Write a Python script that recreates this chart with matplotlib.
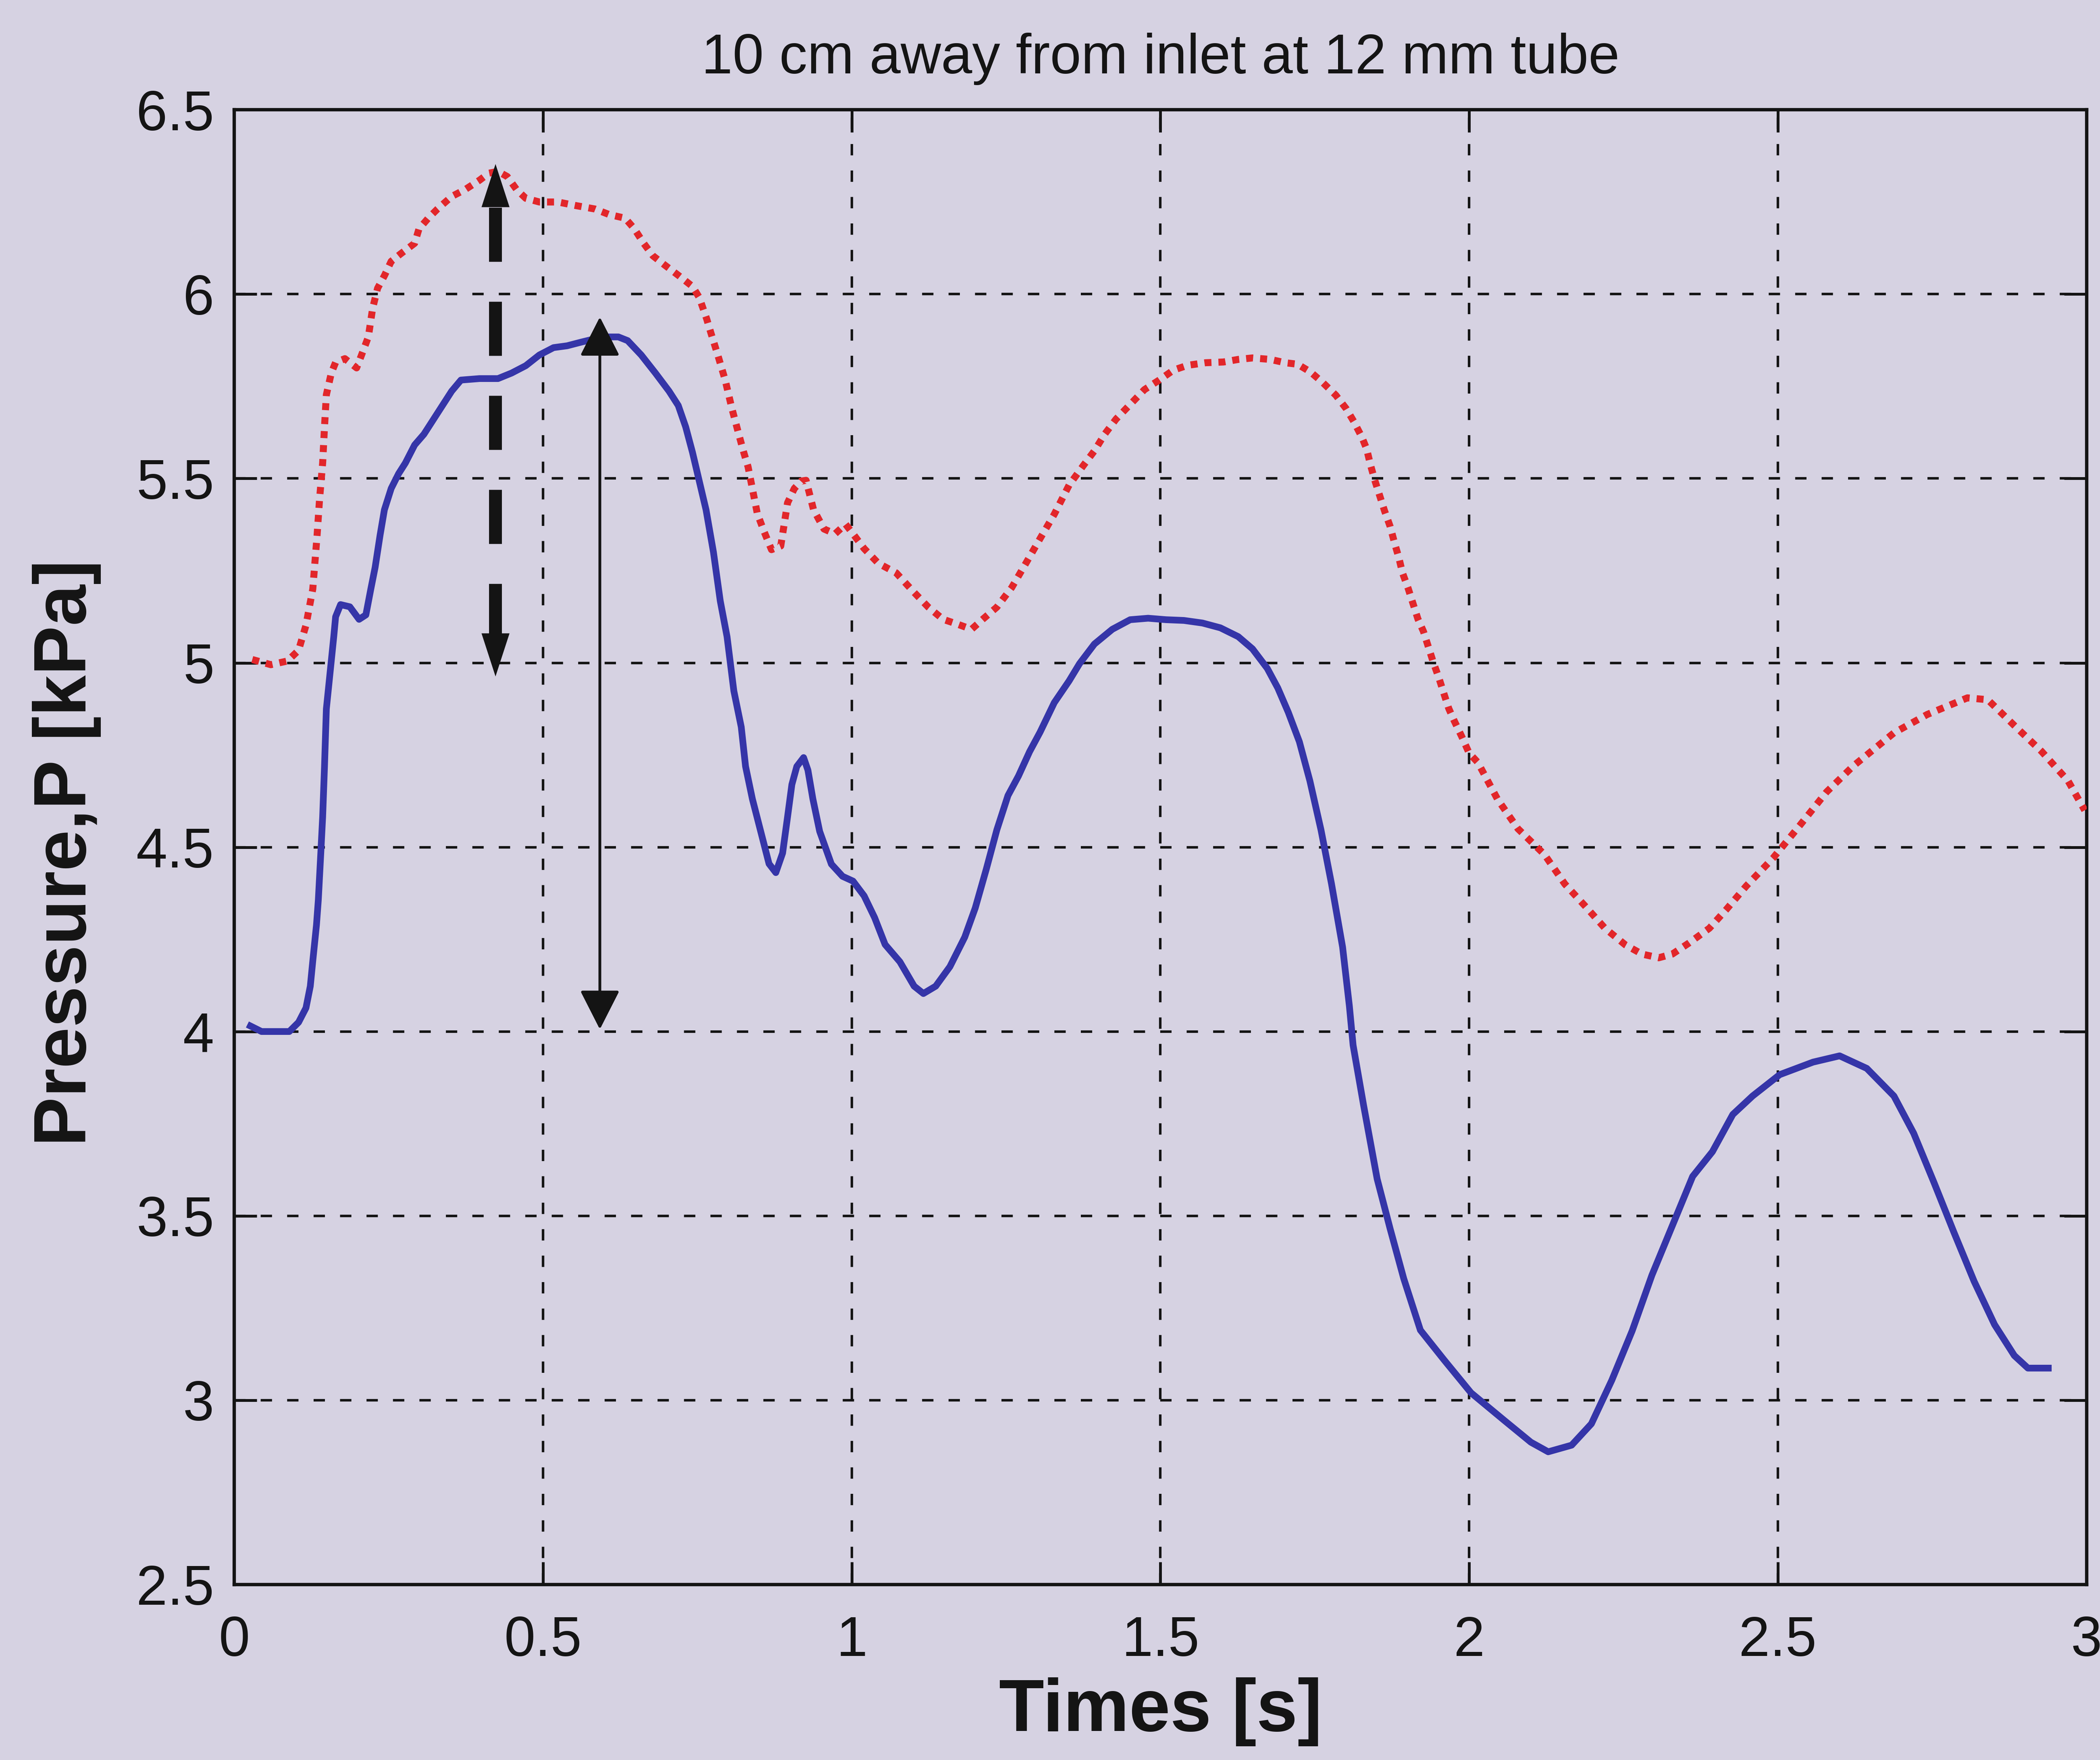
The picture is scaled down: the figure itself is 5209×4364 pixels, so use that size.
import matplotlib.pyplot as plt

# blue solid curve: time [s] and pressure [kPa]
blue_t = [0.026, 0.044, 0.089, 0.104, 0.116, 0.123, 0.127, 0.133, 0.136, 0.140,
          0.143, 0.146, 0.149, 0.155, 0.161, 0.164, 0.172, 0.187, 0.202, 0.213,
          0.221, 0.228, 0.236, 0.243, 0.254, 0.266, 0.277, 0.292, 0.307, 0.322,
          0.337, 0.352, 0.367, 0.397, 0.427, 0.449, 0.472, 0.494, 0.517, 0.539,
          0.562, 0.584, 0.607, 0.622, 0.637, 0.659, 0.682, 0.704, 0.719, 0.731,
          0.742, 0.753, 0.764, 0.776, 0.787, 0.798, 0.809, 0.821, 0.828, 0.839,
          0.854, 0.866, 0.877, 0.888, 0.896, 0.903, 0.911, 0.922, 0.929, 0.937,
          0.948, 0.967, 0.985, 1.002, 1.020, 1.037, 1.054, 1.078, 1.101, 1.116,
          1.136, 1.159, 1.183, 1.200, 1.218, 1.235, 1.253, 1.270, 1.288, 1.305,
          1.328, 1.352, 1.369, 1.393, 1.422, 1.451, 1.480, 1.509, 1.538, 1.568,
          1.597, 1.626, 1.649, 1.673, 1.690, 1.707, 1.725, 1.742, 1.760, 1.777,
          1.795, 1.806, 1.812, 1.829, 1.851, 1.872, 1.894, 1.921, 1.959, 2.003,
          2.057, 2.100, 2.128, 2.166, 2.198, 2.231, 2.264, 2.296, 2.329, 2.362,
          2.394, 2.427, 2.459, 2.503, 2.557, 2.600, 2.644, 2.688, 2.720, 2.753,
          2.785, 2.818, 2.851, 2.883, 2.905, 2.938]
blue_p = [4.015, 4.000, 4.000, 4.025, 4.064, 4.123, 4.191, 4.289, 4.357, 4.484,
          4.582, 4.719, 4.875, 4.973, 5.071, 5.125, 5.158, 5.152, 5.118, 5.130,
          5.200, 5.259, 5.346, 5.415, 5.473, 5.513, 5.542, 5.591, 5.620, 5.659,
          5.698, 5.737, 5.767, 5.771, 5.771, 5.786, 5.806, 5.835, 5.855, 5.860,
          5.870, 5.879, 5.884, 5.884, 5.874, 5.835, 5.786, 5.737, 5.698, 5.640,
          5.571, 5.493, 5.415, 5.300, 5.168, 5.071, 4.924, 4.826, 4.719, 4.631,
          4.533, 4.455, 4.431, 4.484, 4.582, 4.670, 4.719, 4.743, 4.709, 4.631,
          4.543, 4.454, 4.421, 4.408, 4.368, 4.309, 4.236, 4.189, 4.123, 4.103,
          4.123, 4.176, 4.256, 4.335, 4.441, 4.547, 4.640, 4.693, 4.759, 4.812,
          4.892, 4.951, 4.998, 5.051, 5.091, 5.117, 5.121, 5.117, 5.115, 5.108,
          5.095, 5.071, 5.038, 4.985, 4.932, 4.866, 4.786, 4.680, 4.547, 4.401,
          4.229, 4.069, 3.963, 3.800, 3.600, 3.465, 3.330, 3.190, 3.110, 3.020,
          2.945, 2.886, 2.860, 2.878, 2.936, 3.054, 3.188, 3.339, 3.473, 3.607,
          3.674, 3.775, 3.825, 3.883, 3.917, 3.934, 3.900, 3.825, 3.724, 3.590,
          3.456, 3.322, 3.205, 3.121, 3.087, 3.087]

# red dotted curve
red_t = [0.029, 0.059, 0.086, 0.104, 0.116, 0.127, 0.134, 0.138, 0.143, 0.146,
         0.149, 0.157, 0.164, 0.179, 0.198, 0.206, 0.217, 0.224, 0.232, 0.243,
         0.254, 0.269, 0.292, 0.299, 0.314, 0.329, 0.352, 0.374, 0.397, 0.412,
         0.427, 0.442, 0.457, 0.472, 0.494, 0.524, 0.554, 0.584, 0.607, 0.633,
         0.648, 0.663, 0.678, 0.697, 0.720, 0.742, 0.753, 0.765, 0.772, 0.783,
         0.795, 0.806, 0.817, 0.825, 0.832, 0.840, 0.847, 0.858, 0.870, 0.885,
         0.896, 0.907, 0.918, 0.926, 0.938, 0.955, 0.973, 0.990, 1.002, 1.020,
         1.043, 1.072, 1.101, 1.124, 1.148, 1.171, 1.194, 1.212, 1.235, 1.259,
         1.282, 1.305, 1.328, 1.352, 1.375, 1.393, 1.410, 1.428, 1.451, 1.474,
         1.498, 1.521, 1.544, 1.573, 1.602, 1.626, 1.649, 1.678, 1.702, 1.722,
         1.743, 1.763, 1.784, 1.801, 1.813, 1.826, 1.834, 1.840, 1.847, 1.855,
         1.863, 1.872, 1.880, 1.886, 1.892, 1.901, 1.909, 1.917, 1.926, 1.934,
         1.942, 1.951, 1.959, 1.967, 1.976, 1.988, 2.000, 2.014, 2.046, 2.079,
         2.122, 2.155, 2.188, 2.220, 2.253, 2.280, 2.307, 2.329, 2.356, 2.389,
         2.416, 2.449, 2.492, 2.536, 2.579, 2.622, 2.688, 2.742, 2.807, 2.840,
         2.883, 2.927, 2.970, 2.997]
red_p = [5.009, 4.995, 5.005, 5.034, 5.102, 5.200, 5.346, 5.444, 5.542, 5.640,
         5.727, 5.786, 5.815, 5.825, 5.800, 5.835, 5.884, 5.962, 6.016, 6.050,
         6.089, 6.109, 6.138, 6.177, 6.206, 6.231, 6.265, 6.284, 6.309, 6.328,
         6.333, 6.319, 6.284, 6.260, 6.250, 6.250, 6.240, 6.231, 6.216, 6.206,
         6.177, 6.138, 6.104, 6.079, 6.050, 6.021, 5.991, 5.933, 5.894, 5.835,
         5.767, 5.689, 5.620, 5.571, 5.532, 5.464, 5.405, 5.356, 5.307, 5.317,
         5.434, 5.473, 5.493, 5.495, 5.416, 5.363, 5.350, 5.376, 5.350, 5.310,
         5.270, 5.244, 5.191, 5.151, 5.118, 5.105, 5.091, 5.118, 5.151, 5.204,
         5.270, 5.337, 5.403, 5.482, 5.535, 5.575, 5.621, 5.661, 5.701, 5.741,
         5.767, 5.794, 5.807, 5.814, 5.816, 5.823, 5.827, 5.823, 5.814, 5.810,
         5.789, 5.760, 5.726, 5.689, 5.655, 5.613, 5.580, 5.538, 5.496, 5.454,
         5.412, 5.370, 5.320, 5.286, 5.244, 5.203, 5.161, 5.119, 5.085, 5.043,
         5.001, 4.959, 4.917, 4.876, 4.842, 4.800, 4.755, 4.730, 4.630, 4.550,
         4.480, 4.400, 4.340, 4.280, 4.235, 4.210, 4.200, 4.210, 4.240, 4.280,
         4.330, 4.395, 4.470, 4.560, 4.650, 4.720, 4.810, 4.860, 4.905, 4.900,
         4.830, 4.760, 4.680, 4.600]

# amplitude arrows: [dashed (red curve), solid (blue curve)]
arrow_t = [0.423, 0.592]
arrow_low = [4.963, 4.006]
arrow_high = [6.353, 5.938]

x_ticks = [0, 0.5, 1, 1.5, 2, 2.5, 3]
x_labels = ["0", "0.5", "1", "1.5", "2", "2.5", "3"]
y_ticks = [2.5, 3, 3.5, 4, 4.5, 5, 5.5, 6, 6.5]
y_labels = ["2.5", "3", "3.5", "4", "4.5", "5", "5.5", "6", "6.5"]

bg = "#d6d2e2"
ink = "#141414"


def main():
    plt.rcParams["font.family"] = ["Liberation Sans", "DejaVu Sans"]
    fig = plt.figure(figsize=(52.09, 43.64), dpi=100, facecolor=bg)
    ax = fig.add_axes([0.1116, 0.0997, 0.8820, 0.8379], facecolor=bg)

    ax.plot(blue_t, blue_p, color="#3535a8", lw=12, solid_joinstyle="round", zorder=3)
    ax.plot(red_t, red_p, color="#e2262a", lw=12.5, linestyle=(0, (1, 1)),
            dash_capstyle="butt", zorder=3)

    # dashed thick arrow (red curve amplitude)
    t, lo, hi = arrow_t[0], arrow_low[0], arrow_high[0]
    ax.plot([t, t], [hi - 0.118, lo + 0.112], color=ink, lw=23,
            linestyle=(0, (4.2, 3.1)), dash_capstyle="butt", zorder=4)
    for tip in (hi, lo):
        ax.annotate("", xy=(t, tip), xytext=(t, (hi + lo) / 2),
                    arrowprops=dict(arrowstyle="-|>,head_length=77,head_width=25",
                                    mutation_scale=1, lw=0, color=ink,
                                    shrinkA=0, shrinkB=0), zorder=4)

    # thin solid arrow (blue curve amplitude)
    t, lo, hi = arrow_t[1], arrow_low[1], arrow_high[1]
    ax.annotate("", xy=(t, hi), xytext=(t, lo),
                arrowprops=dict(arrowstyle="<|-|>,head_length=61,head_width=31",
                                mutation_scale=1, lw=5, color=ink,
                                shrinkA=0, shrinkB=0), zorder=4)

    ax.set_xlim(0, 3)
    ax.set_ylim(2.5, 6.5)
    ax.set_xticks(x_ticks)
    ax.set_xticklabels(x_labels)
    ax.set_yticks(y_ticks)
    ax.set_yticklabels(y_labels)
    ax.tick_params(direction="in", length=40, width=5, top=True, right=True,
                   labelsize=100, colors=ink)
    ax.tick_params(axis="x", pad=55)
    ax.tick_params(axis="y", pad=36)
    ax.grid(True, color=ink, linestyle=(0, (4.5, 6)), linewidth=4.5)
    for s in ax.spines.values():
        s.set_linewidth(6)
        s.set_color(ink)

    ax.set_title("10 cm away from inlet at 12 mm tube", fontsize=100, color=ink, pad=65)
    ax.set_xlabel("Times [s]", fontsize=132, fontweight="bold", color=ink)
    ax.set_ylabel("Pressure,P [kPa]", fontsize=132, fontweight="bold", color=ink)
    ax.xaxis.set_label_coords(0.5, -0.063)
    ax.yaxis.set_label_coords(-0.072, 0.496)

    fig.savefig("out.png", dpi=100, facecolor=bg)


if __name__ == "__main__":
    main()
